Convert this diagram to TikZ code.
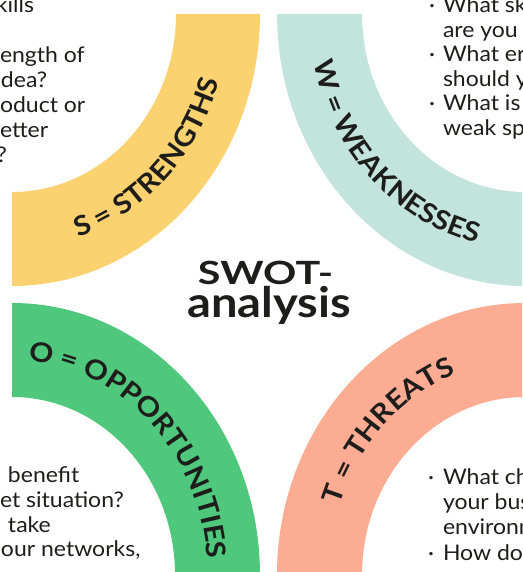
\documentclass[tikz,border=0pt]{standalone}
\usepackage{fontspec}
\setmainfont{Lato}
\newfontfamily\bodyfam[FakeStretch=1.07]{Lato}
\newfontfamily\lblfam[FakeStretch=1.1]{Lato}
\newfontfamily\swotfam[FakeStretch=1.29]{Lato}
\newfontfamily\anafam[FakeStretch=1.12]{Lato}
\usetikzlibrary{decorations.text}
\definecolor{cS}{HTML}{FCD170}
\definecolor{cW}{HTML}{C3E4DC}
\definecolor{cO}{HTML}{4FC77C}
\definecolor{cT}{HTML}{FCAC93}
\definecolor{ink}{HTML}{1D1D1B}
\newcommand{\lblfont}{\lblfam\fontsize{27}{27}\selectfont\bfseries\color{ink}}
\tikzset{
  body/.style={inner sep=0pt, outer sep=0pt, text=ink, font=\bodyfam\fontsize{21.5}{24}\selectfont},
  bul/.style={body, anchor=base},
  title/.style={inner sep=0pt, text=ink, anchor=base},
}
\begin{document}
\begin{tikzpicture}[x=1pt,y=1pt]
\useasboundingbox (0,0) rectangle (522,572);
\clip (0,0) rectangle (522,572);
% bands
\fill[cS] (260,558) arc[start angle=0,end angle=-90,x radius=248,y radius=272] -- (12,380) arc[start angle=-90,end angle=0,x radius=164,y radius=178] -- cycle;
\fill[cW] (277,558) arc[start angle=180,end angle=270,x radius=248,y radius=272] -- (525,380) arc[start angle=270,end angle=180,x radius=163,y radius=178] -- cycle;
\fill[cO] (12,269) arc[start angle=90,end angle=0,x radius=248,y radius=272] -- (175,-3) arc[start angle=0,end angle=90,x radius=163,y radius=178] -- cycle;
\fill[cT] (525,269) arc[start angle=90,end angle=180,x radius=248,y radius=272] -- (362,-3) arc[start angle=180,end angle=90,x radius=163,y radius=178] -- cycle;
% band labels
\path[decorate,decoration={text along path,text align=center,text={|\lblfont|S = STRENGTHS}}]
  (12,323) arc[start angle=-90,end angle=0,x radius=216,y radius=235];
\path[decorate,decoration={text along path,text align=center,text={|\lblfont|W = WEAKNESSES}}]
  (309,558) arc[start angle=180,end angle=270,x radius=216,y radius=235];
\path[decorate,decoration={text along path,text align=center,text={|\lblfont|O = OPPORTUNITIES}}]
  (12,212) arc[start angle=90,end angle=0,x radius=196,y radius=215];
\path[decorate,decoration={text along path,text align=center,text={|\lblfont|T = THREATS}}]
  (329,-3) arc[start angle=180,end angle=90,x radius=196,y radius=215];
% title
\node[title,font=\swotfam\fontsize{32}{32}\selectfont\bfseries] (t1) at (265.5,287) {SWOT-};
\node[title,font=\anafam\fontsize{42}{42}\selectfont\bfseries] (t2) at (269,254) {analysis};
% top-left text
\node[body,anchor=base east] (s1) at (34,559) {kills};
\node[body,anchor=base west] (s2) at (0,509) {ength of};
\node[body,anchor=base west] (s3) at (1,484) {dea?};
\node[body,anchor=base west] (s4) at (0,459) {oduct or};
\node[body,anchor=base west] (s5) at (0,434) {etter};
\node[body,anchor=base east] (s6) at (7,409) {?};
% top-right text
\node[bul] (wb1) at (432,559) {·};
\node[body,anchor=base west] (w1) at (443,559) {What sk};
\node[body,anchor=base west] (w2) at (443,534.5) {are you};
\node[bul] (wb2) at (432,510) {·};
\node[body,anchor=base west] (w3) at (443,510) {What er};
\node[body,anchor=base west] (w4) at (443,485.5) {should y};
\node[bul] (wb3) at (432,461) {·};
\node[body,anchor=base west] (w5) at (443,461) {What is};
\node[body,anchor=base west] (w6) at (443,436.5) {weak sp};
% bottom-left text
\node[body,anchor=base west] (o1) at (8,89) {benefit};
\node[body,anchor=base west] (o2) at (0,64) {et situation?};
\node[body,anchor=base west] (o3) at (8,39) {take};
\node[body,anchor=base west] (o4) at (1,15) {our networks,};
% bottom-right text
\node[bul] (tb1) at (431,87) {·};
\node[body,anchor=base west] (r1) at (443,87) {What ch};
\node[body,anchor=base west] (r2) at (443,62) {your bus};
\node[body,anchor=base west] (r3) at (443,37) {environm};
\node[bul] (tb2) at (431,12) {·};
\node[body,anchor=base west] (r4) at (443,12) {How do};
\end{tikzpicture}
\end{document}
